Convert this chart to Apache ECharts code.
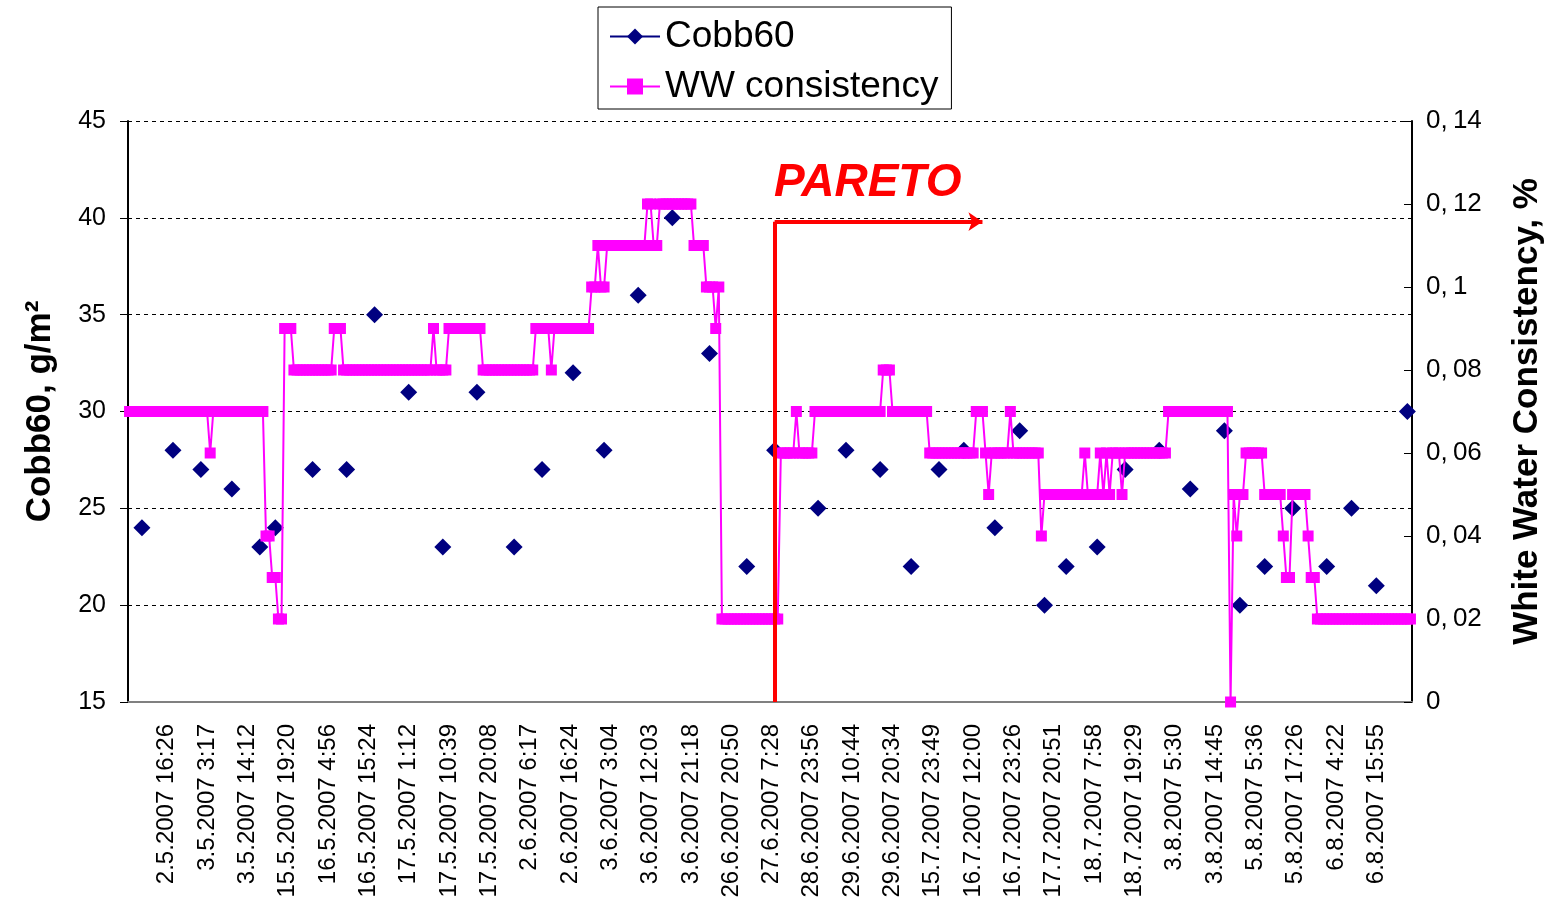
<!DOCTYPE html>
<html>
<head>
<meta charset="utf-8">
<script src="https://cdn.jsdelivr.net/npm/echarts@6/dist/echarts.min.js"></script>
<style>
  html, body { margin: 0; padding: 0; background: #fff; }
  #chart { width: 1553px; height: 903px; }
</style>
</head>
<body>
<div id="chart"></div>
<script>
// samples along the x axis (one category per sample)
var nSamples = 414;
var firstLabelAt = 12, labelStep = 13;

var tickLabels = [
    '2.5.2007 16:26', '3.5.2007 3:17', '3.5.2007 14:12', '15.5.2007 19:20', '16.5.2007 4:56',
    '16.5.2007 15:24', '17.5.2007 1:12', '17.5.2007 10:39', '17.5.2007 20:08', '2.6.2007 6:17',
    '2.6.2007 16:24', '3.6.2007 3:04', '3.6.2007 12:03', '3.6.2007 21:18', '26.6.2007 20:50',
    '27.6.2007 7:28', '28.6.2007 23:56', '29.6.2007 10:44', '29.6.2007 20:34', '15.7.2007 23:49',
    '16.7.2007 12:00', '16.7.2007 23:26', '17.7.2007 20:51', '18.7.2007 7:58', '18.7.2007 19:29',
    '3.8.2007 5:30', '3.8.2007 14:45', '5.8.2007 5:36', '5.8.2007 17:26', '6.8.2007 4:22',
    '6.8.2007 15:55'
];

// Cobb60 lab measurements: sample index + value (g/m2)
var cobbIdx = [4, 14, 23, 33, 42, 47, 59, 70, 79, 90, 101, 112, 124, 133, 143, 153, 164, 175, 187, 199,
    208, 222, 231, 242, 252, 261, 269, 279, 287, 295, 302, 312, 321, 332, 342, 353, 358, 366, 375, 386,
    394, 402, 412];
var cobbVal = [24, 28, 27, 26, 23, 24, 27, 27, 35, 31, 23, 31, 23, 27, 32, 28, 36, 40, 33, 22,
    28, 25, 28, 27, 22, 27, 28, 24, 29, 20, 22, 23, 27, 28, 26, 29, 20, 22, 25, 22,
    25, 21, 30];

// WW consistency: value holds from each start index until the next one
var wwStart = [0, 26, 27, 44, 46, 48, 50, 53, 66, 69, 98, 99, 103, 114, 131, 136, 137, 149, 151, 152,
    154, 167, 169, 171, 182, 186, 189, 190, 191, 210, 215, 216, 221, 243, 246, 258, 273, 276, 277, 278,
    284, 285, 294, 295, 308, 309, 313, 314, 315, 316, 317, 320, 321, 335, 355, 356, 357, 358, 360, 366,
    372, 373, 375, 380, 381, 383];
var wwVal = [0.07, 0.06, 0.07, 0.04, 0.03, 0.02, 0.09, 0.08, 0.09, 0.08, 0.09, 0.08, 0.09, 0.08, 0.09, 0.08, 0.09, 0.10, 0.11, 0.10,
    0.11, 0.12, 0.11, 0.12, 0.11, 0.10, 0.09, 0.10, 0.02, 0.06, 0.07, 0.06, 0.07, 0.08, 0.07, 0.06, 0.07, 0.06, 0.05, 0.06,
    0.07, 0.06, 0.04, 0.05, 0.06, 0.05, 0.06, 0.05, 0.06, 0.05, 0.06, 0.05, 0.06, 0.07, 0, 0.05, 0.04, 0.05, 0.06, 0.05,
    0.04, 0.03, 0.05, 0.04, 0.03, 0.02];

// build the arrays the axis / series need
var cats = [];
for (var i = 0; i < nSamples; i++) {
    var k = (i - firstLabelAt) / labelStep;
    cats.push(k >= 0 && k === Math.floor(k) && k < tickLabels.length ? tickLabels[k] : '');
}
var cobbData = [];
for (i = 0; i < nSamples; i++) cobbData.push(null);
for (i = 0; i < cobbIdx.length; i++) cobbData[cobbIdx[i]] = cobbVal[i];

var wwData = [];
var r = 0;
for (i = 0; i < nSamples; i++) {
    if (r + 1 < wwStart.length && i >= wwStart[r + 1]) r++;
    wwData.push(wwVal[r]);
}

var FONT = '"Liberation Sans", Arial, sans-serif';

var myChart = echarts.init(document.getElementById('chart'));
var option = {
    backgroundColor: '#fff',
    animation: false,
    textStyle: { fontFamily: FONT },
    legend: {
        data: ['Cobb60', 'WW consistency'],
        orient: 'vertical',
        left: 598,
        top: 7,
        padding: [11, 13, 4, 11],
        itemGap: 13,
        itemWidth: 50,
        itemHeight: 20,
        borderColor: '#000',
        borderWidth: 1,
        textStyle: { fontFamily: FONT, fontSize: 37, color: '#000' }
    },
    grid: {
        left: 128, right: 140, top: 121, bottom: 201,
        containLabel: false
    },
    xAxis: {
        type: 'category',
        data: cats,
        boundaryGap: true,
        axisLine: { lineStyle: { color: '#808080', width: 2 } },
        axisTick: { interval: 0, length: 8, lineStyle: { color: '#444', width: 1 } },
        axisLabel: {
            interval: function (idx, val) { return val !== ''; },
            rotate: 90,
            margin: 22,
            fontSize: 24,
            color: '#000',
            fontFamily: FONT
        },
        splitLine: { show: false }
    },
    yAxis: [{
        type: 'value',
        min: 15, max: 45, interval: 5,
        name: 'Cobb60, g/m\u00B2',
        nameLocation: 'middle',
        nameRotate: 90,
        nameGap: 70,
        nameTextStyle: { fontSize: 35, fontWeight: 'bold', color: '#000', fontFamily: FONT },
        axisLine: { show: true, lineStyle: { color: '#000', width: 2 } },
        axisTick: { show: true, length: 8, lineStyle: { color: '#000', width: 1 } },
        axisLabel: { fontSize: 25, color: '#000', margin: 22, fontFamily: FONT },
        splitLine: { show: true, lineStyle: { color: '#000', type: [4, 4], width: 1 } }
    }, {
        type: 'value',
        min: 0, max: 0.14, interval: 0.02,
        name: 'White Water Consistency, %',
        nameLocation: 'middle',
        nameRotate: 90,
        nameGap: 98,
        nameTextStyle: { fontSize: 35, fontWeight: 'bold', color: '#000', fontFamily: FONT },
        axisLine: { show: true, lineStyle: { color: '#000', width: 2 } },
        axisTick: { show: true, inside: true, length: 8, lineStyle: { color: '#000', width: 1 } },
        axisLabel: {
            fontSize: 26, color: '#000', margin: 14, fontFamily: FONT,
            formatter: function (v) { return String(+v.toFixed(2)).replace('.', ',\u2009'); }
        },
        splitLine: { show: false }
    }],
    series: [{
        name: 'Cobb60',
        type: 'line',
        yAxisIndex: 0,
        data: cobbData,
        connectNulls: false,
        showAllSymbol: true,
        symbol: 'diamond',
        symbolSize: 17,
        itemStyle: { color: '#000080' },
        lineStyle: { color: '#000080', width: 2 },
        z: 2,
        markLine: {
            silent: true,
            animation: false,
            label: { show: false },
            lineStyle: { color: '#ff0000', width: 4, type: 'solid' },
            symbolSize: 14,
            data: [
                [{ coord: [208, 15], symbol: 'none' }, { coord: [208, 39.8], symbol: 'none' }],
                [{ coord: [208, 39.8], symbol: 'none' }, { coord: [275, 39.8], symbol: 'arrow' }]
            ],
            z: 10
        },
        markPoint: {
            silent: true,
            symbol: 'rect',
            symbolSize: 0,
            label: {
                show: true,
                position: 'inside',
                formatter: 'PARETO',
                color: '#ff0000',
                fontSize: 46,
                fontWeight: 'bold',
                fontStyle: 'italic',
                fontFamily: FONT
            },
            data: [{ coord: [238, 41.8] }]
        }
    }, {
        name: 'WW consistency',
        type: 'line',
        yAxisIndex: 1,
        data: wwData,
        showAllSymbol: true,
        symbol: 'rect',
        symbolSize: 11,
        itemStyle: { color: '#ff00ff' },
        lineStyle: { color: '#ff00ff', width: 2 },
        z: 3
    }]
};
myChart.setOption(option);
</script>
</body>
</html>
